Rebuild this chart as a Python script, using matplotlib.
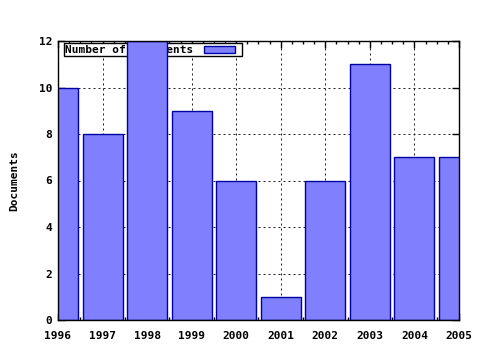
import matplotlib
matplotlib.use("Agg")
import matplotlib.pyplot as plt
from matplotlib.ticker import MultipleLocator
from matplotlib.patches import Rectangle

years = [1996, 1997, 1998, 1999, 2000, 2001, 2002, 2003, 2004, 2005]
documents = [10, 8, 12, 9, 6, 1, 6, 11, 7, 7]
ylabel = "Documents"
legend_label = "Number of Documents"

plt.rcParams['font.family'] = ['DejaVu Sans Mono']
plt.rcParams['font.weight'] = 'bold'
plt.rcParams['font.size'] = 8

fig = plt.figure(figsize=(4.8, 3.5), dpi=100)
ax = fig.add_axes([58/480, 30/350, (459-58)/480, (320-41)/350])

ax.set_xlim(1996, 2005)
ax.set_ylim(0, 12)
ax.set_xticks(years)
ax.set_xticklabels([str(y) for y in years], fontweight='bold')
ax.xaxis.set_minor_locator(MultipleLocator(0.25))
ax.yaxis.set_major_locator(MultipleLocator(2))
for lab in ax.get_yticklabels():
    lab.set_fontweight('bold')
ax.grid(True, which='major', linestyle=(0, (2, 3)), color='#222222', linewidth=0.72)
ax.set_axisbelow(True)
ax.tick_params(axis='both', which='major', direction='in', length=5, width=1, top=True, right=True, pad=4)
ax.tick_params(axis='x', which='major', pad=8)
ax.tick_params(axis='x', which='minor', direction='in', length=2.5, width=1, top=True)
for s in ax.spines.values():
    s.set_linewidth(1)
    s.set_color('black')

ax.set_ylabel(ylabel, labelpad=14, fontweight='bold')

# legend box (drawn behind the bars)
leg_box = Rectangle((64/480, (350-56)/350), (242-64)/480, 13/350, transform=fig.transFigure,
                    facecolor='white', edgecolor='black', linewidth=1, zorder=1)
ax.add_patch(leg_box)
leg_box.set_clip_on(False)
ax.text(65/480, (350-50)/350, legend_label, transform=fig.transFigure, va='center', ha='left',
        zorder=1.5, fontweight='bold')
sample = Rectangle((204/480, (350-53)/350), (235-204)/480, 7/350, transform=fig.transFigure,
                   facecolor='#8080ff', edgecolor='#0000a0', linewidth=1, zorder=1.5)
ax.add_patch(sample)
sample.set_clip_on(False)

ax.bar(years, documents, width=0.9, color='#8080ff', edgecolor='#0000a0', linewidth=1, zorder=2)

fig.savefig("out.png", dpi=100)
